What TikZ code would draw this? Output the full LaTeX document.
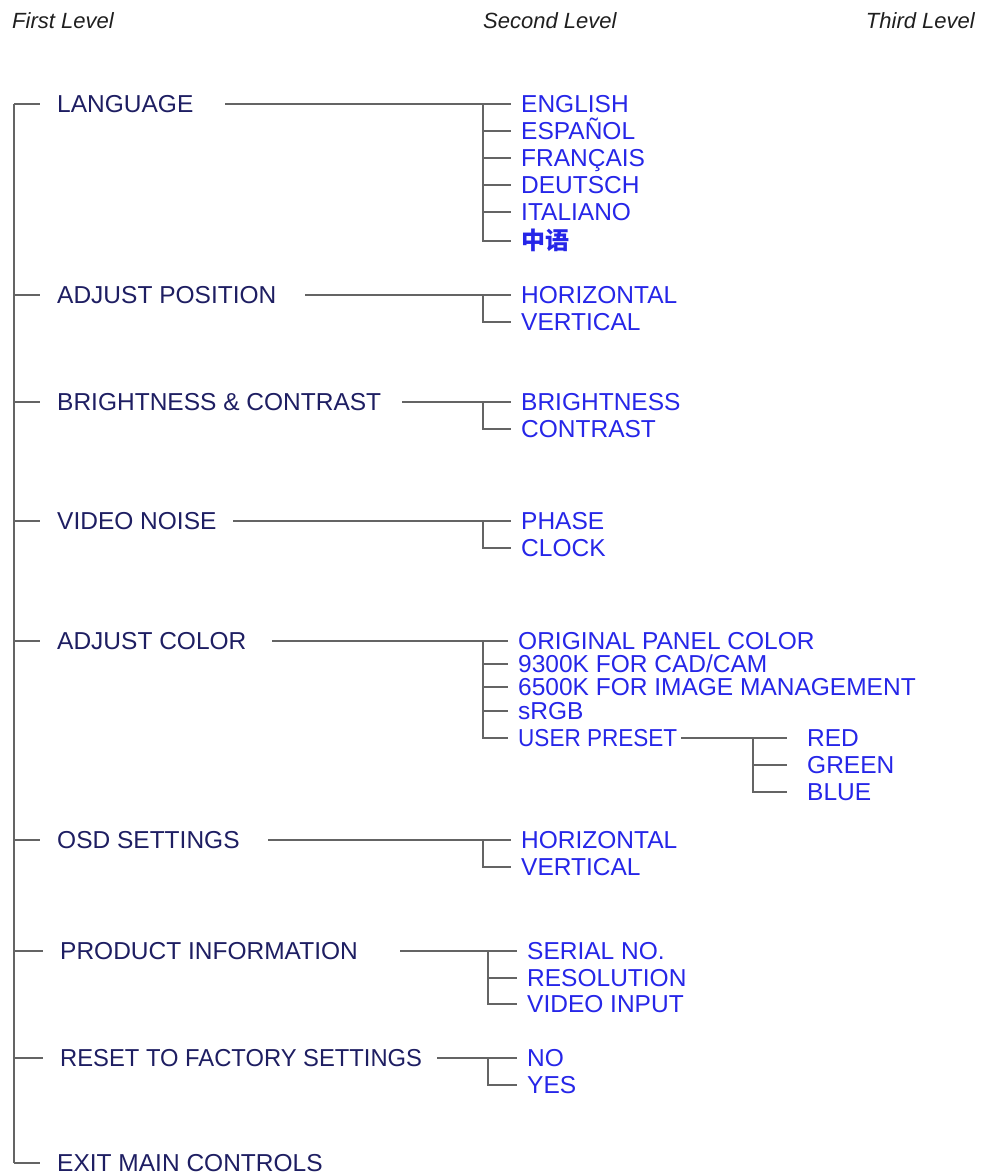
\documentclass[tikz,border=0pt]{standalone}
\usepackage{fontspec}
\setmainfont{Liberation Sans}
\newfontfamily\narrowa{Liberation Sans}[FakeStretch=0.92]
\newfontfamily\narrowb{Liberation Sans}[FakeStretch=0.97]
\newfontfamily\cjk{Noto Sans CJK SC}
\definecolor{navy}{RGB}{30,30,98}
\definecolor{blu}{RGB}{38,38,232}
\definecolor{lng}{RGB}{100,100,100}
\begin{document}
\begin{tikzpicture}[x=1bp,y=-1bp,
  every node/.style={inner ysep=0pt, text height=17.5bp, text depth=0pt,
    font=\fontsize{24.5bp}{26bp}\selectfont},
  lone/.style={anchor=west, text=navy, inner xsep=17bp},
  ltwo/.style={anchor=west, text=blu, inner xsep=10bp},
  hdr/.style={font=\fontsize{22bp}{24bp}\selectfont\itshape, text=black!88, inner sep=0pt},
  ln/.style={draw=lng, line width=1.8bp}]
\useasboundingbox (0,0) rectangle (981,1176);

% headers
\node[hdr, anchor=west] (h1) at (12,20) {First Level};
\node[hdr, anchor=west] (h2) at (483,20) {Second Level};
\node[hdr, anchor=east] (h3) at (975,20) {Third Level};

% first level
\node[lone] (lang) at (40,104) {LANGUAGE};
\node[lone] (adjpos) at (40,295) {ADJUST POSITION};
\node[lone] (bc) at (40,402) {BRIGHTNESS \& CONTRAST};
\node[lone] (vn) at (40,521) {VIDEO NOISE};
\node[lone] (ac) at (40,641) {ADJUST COLOR};
\node[lone] (osd) at (40,840) {OSD SETTINGS};
\node[lone] (pi) at (43,951) {PRODUCT INFORMATION};
\node[lone, font=\narrowb\fontsize{24.5bp}{26bp}\selectfont] (rst) at (43,1058) {RESET TO FACTORY SETTINGS};
\node[lone] (exit) at (40,1163) {EXIT MAIN CONTROLS};

\coordinate (T) at (14,0);
\draw[ln] (T |- lang.west) -- (T |- exit.west);
\foreach \n in {lang,adjpos,bc,vn,ac,osd,pi,rst,exit}
  \draw[ln] (T |- \n.west) -- (\n.west);

% LANGUAGE
\node[ltwo] (en) at (511,104) {ENGLISH};
\node[ltwo] (es) at (511,131) {ESPAÑOL};
\node[ltwo] (fr) at (511,158) {FRANÇAIS};
\node[ltwo] (de) at (511,185) {DEUTSCH};
\node[ltwo] (it) at (511,212) {ITALIANO};
\node[ltwo, font=\cjk\bfseries\fontsize{24bp}{26bp}\selectfont] (zh) at (511,241) {中语};
\coordinate (s1) at (225,104); \coordinate (j1) at (483,0);
\draw[ln] (s1) -- (j1 |- en.west) |- (zh.west);
\foreach \c in {en,es,fr,de,it} \draw[ln] (j1 |- \c.west) -- (\c.west);

% ADJUST POSITION
\node[ltwo] (hp) at (511,295) {HORIZONTAL};
\node[ltwo] (vp) at (511,322) {VERTICAL};
\coordinate (s2) at (305,295);
\draw[ln] (s2) -- (j1 |- hp.west) |- (vp.west);
\draw[ln] (j1 |- hp.west) -- (hp.west);

% BRIGHTNESS & CONTRAST
\node[ltwo] (br) at (511,402) {BRIGHTNESS};
\node[ltwo] (co) at (511,429) {CONTRAST};
\coordinate (s3) at (402,402);
\draw[ln] (s3) -- (j1 |- br.west) |- (co.west);
\draw[ln] (j1 |- br.west) -- (br.west);

% VIDEO NOISE
\node[ltwo] (ph) at (511,521) {PHASE};
\node[ltwo] (cl) at (511,548) {CLOCK};
\coordinate (s4) at (233,521);
\draw[ln] (s4) -- (j1 |- ph.west) |- (cl.west);
\draw[ln] (j1 |- ph.west) -- (ph.west);

% ADJUST COLOR
\node[ltwo] (op) at (508,641) {ORIGINAL PANEL COLOR};
\node[ltwo] (k93) at (508,664) {9300K FOR CAD/CAM};
\node[ltwo] (k65) at (508,687) {6500K FOR IMAGE MANAGEMENT};
\node[ltwo] (srgb) at (508,711) {sRGB};
\node[ltwo, font=\narrowa\fontsize{24.5bp}{26bp}\selectfont] (up) at (508,738) {USER PRESET};
\coordinate (s5) at (272,641);
\draw[ln] (s5) -- (j1 |- op.west) |- (up.west);
\foreach \c in {op,k93,k65,srgb} \draw[ln] (j1 |- \c.west) -- (\c.west);

% USER PRESET
\node[ltwo, inner xsep=20bp] (red) at (787,738) {RED};
\node[ltwo, inner xsep=20bp] (grn) at (787,765) {GREEN};
\node[ltwo, inner xsep=20bp] (blue) at (787,792) {BLUE};
\coordinate (s6) at (681,738); \coordinate (j6) at (753,0);
\draw[ln] (s6) -- (j6 |- red.west) |- (blue.west);
\foreach \c in {red,grn} \draw[ln] (j6 |- \c.west) -- (\c.west);

% OSD SETTINGS
\node[ltwo] (ho) at (511,840) {HORIZONTAL};
\node[ltwo] (ve) at (511,867) {VERTICAL};
\coordinate (s7) at (268,840);
\draw[ln] (s7) -- (j1 |- ho.west) |- (ve.west);
\draw[ln] (j1 |- ho.west) -- (ho.west);

% PRODUCT INFORMATION
\node[ltwo] (sn) at (517,951) {SERIAL NO.};
\node[ltwo] (res) at (517,978) {RESOLUTION};
\node[ltwo] (vi) at (517,1004) {VIDEO INPUT};
\coordinate (s8) at (400,951); \coordinate (j8) at (488,0);
\draw[ln] (s8) -- (j8 |- sn.west) |- (vi.west);
\foreach \c in {sn,res} \draw[ln] (j8 |- \c.west) -- (\c.west);

% RESET
\node[ltwo] (no) at (517,1058) {NO};
\node[ltwo] (yes) at (517,1085) {YES};
\coordinate (s9) at (437,1058);
\draw[ln] (s9) -- (j8 |- no.west) |- (yes.west);
\draw[ln] (j8 |- no.west) -- (no.west);
\end{tikzpicture}
\end{document}
